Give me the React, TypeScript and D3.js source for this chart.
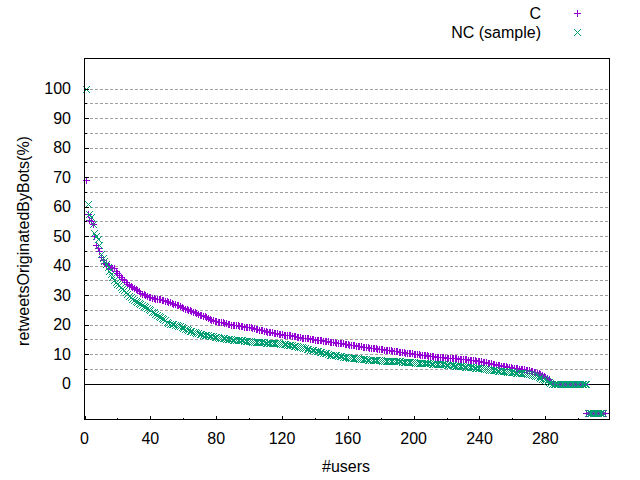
import * as d3 from "d3";
import { useEffect, useRef } from "react";

// retweetsOriginatedByBots(%) per user, sorted, C series (users 1..316)
const cValues: number[] = [
  69, 57.6, 55.5, 55, 54.2, 50, 47, 46, 45, 43,
  42, 41, 40.5, 40, 39.8, 39.5, 39.2, 39, 38.2, 37.5,
  36.8, 36.1, 35.5, 35, 34.3, 33.8, 33.3, 33, 32.8, 32.5,
  32.2, 31.8, 31.3, 30.8, 30.5, 30.2, 29.9, 29.6, 29.4, 29.2,
  29, 28.9, 28.8, 28.8, 28.7, 28.5, 28.4, 28.2, 28, 27.9,
  27.8, 27.7, 27.4, 27.1, 26.9, 26.7, 26.5, 26.2, 25.9, 25.6,
  25.4, 25.2, 25, 24.8, 24.6, 24.3, 24.1, 23.9, 23.6, 23.4,
  23.2, 23, 22.8, 22.5, 22.1, 21.8, 21.6, 21.4, 21.3, 21.1,
  21, 20.9, 20.8, 20.7, 20.6, 20.5, 20.3, 20.1, 20, 20,
  19.9, 19.8, 19.7, 19.6, 19.5, 19.4, 19.3, 19.2, 19.2, 19.1,
  19, 18.8, 18.7, 18.5, 18.4, 18.2, 18.1, 18, 17.9, 17.7,
  17.6, 17.5, 17.4, 17.3, 17.2, 17.1, 17, 16.9, 16.8, 16.7,
  16.6, 16.5, 16.4, 16.4, 16.3, 16.2, 16.1, 16, 15.9, 15.8,
  15.7, 15.6, 15.6, 15.5, 15.4, 15.3, 15.2, 15.1, 15, 14.9,
  14.9, 14.8, 14.7, 14.6, 14.5, 14.4, 14.4, 14.3, 14.2, 14.1,
  14.1, 14, 13.9, 13.9, 13.8, 13.7, 13.6, 13.5, 13.4, 13.3,
  13.2, 13.1, 13, 12.9, 12.8, 12.8, 12.7, 12.6, 12.5, 12.4,
  12.3, 12.3, 12.2, 12.1, 12, 12, 11.9, 11.8, 11.8, 11.7,
  11.6, 11.5, 11.5, 11.4, 11.3, 11.2, 11.1, 11, 10.9, 10.9,
  10.8, 10.7, 10.6, 10.6, 10.5, 10.4, 10.4, 10.3, 10.2, 10.1,
  10, 10, 9.9, 9.8, 9.7, 9.6, 9.6, 9.5, 9.4, 9.3,
  9.3, 9.2, 9.1, 9.1, 9, 9, 8.9, 8.9, 8.8, 8.8,
  8.7, 8.7, 8.6, 8.6, 8.5, 8.5, 8.4, 8.4, 8.3, 8.3,
  8.2, 8.2, 8.1, 8.1, 8, 7.9, 7.9, 7.8, 7.7, 7.6,
  7.5, 7.4, 7.3, 7.2, 7.1, 6.9, 6.8, 6.7, 6.6, 6.4,
  6.3, 6.2, 6.1, 6, 5.9, 5.8, 5.7, 5.6, 5.5, 5.4,
  5.3, 5.2, 5.1, 5, 4.9, 4.8, 4.8, 4.7, 4.6, 4.5,
  4.3, 4.1, 3.9, 3.8, 3.6, 3.4, 3.1, 2.8, 2.5, 2.1,
  1.8, 1.4, 0.8, 0, 0, 0, 0, 0, 0, 0,
  0, 0, 0, 0, 0, 0, 0, 0, 0, 0,
  0, 0, 0, 0, -10, -10, -10, -10, -10, -10,
  -10, -10, -10, -10, -10, -10,
];

// NC (sample) series (users 1..315)
const ncValues: number[] = [
  100, 61, 57.5, 56.5, 54, 51, 50, 49, 47, 44,
  42.5, 41.5, 40.5, 39.5, 38, 37, 36, 35, 34.3, 33.8,
  33.3, 32.8, 32.2, 31.6, 31, 30.4, 29.8, 29.3, 28.7, 28.2,
  27.9, 27.7, 27.4, 27.1, 26.7, 26.3, 25.9, 25.6, 25.2, 24.8,
  24.4, 24.1, 23.7, 23.3, 23, 22.6, 22.2, 21.8, 21.4, 21,
  20.6, 20.3, 20.2, 20.1, 20, 19.8, 19.6, 19.4, 19.1, 18.8,
  18.6, 18.4, 18.1, 17.8, 17.7, 17.5, 17.3, 17.1, 17, 16.9,
  16.8, 16.6, 16.5, 16.4, 16.3, 16.2, 16.1, 16, 15.9, 15.8,
  15.7, 15.6, 15.5, 15.4, 15.3, 15.2, 15.1, 15, 15, 14.9,
  14.9, 14.8, 14.8, 14.7, 14.7, 14.6, 14.5, 14.4, 14.4, 14.3,
  14.3, 14.2, 14.2, 14.2, 14.1, 14.1, 14, 14, 14, 13.9,
  13.9, 13.9, 13.8, 13.8, 13.8, 13.7, 13.6, 13.6, 13.5, 13.4,
  13.4, 13.3, 13.2, 13.1, 13, 12.9, 12.8, 12.7, 12.6, 12.5,
  12.4, 12.3, 12.1, 12, 11.8, 11.6, 11.5, 11.4, 11.3, 11.1,
  11, 10.9, 10.7, 10.6, 10.5, 10.3, 10.2, 10, 9.8, 9.7,
  9.6, 9.5, 9.5, 9.4, 9.3, 9.2, 9.1, 9, 8.9, 8.9,
  8.8, 8.7, 8.6, 8.6, 8.5, 8.5, 8.4, 8.4, 8.3, 8.2,
  8.2, 8.1, 8.1, 8.1, 8, 8, 8, 7.9, 7.9, 7.9,
  7.8, 7.8, 7.8, 7.7, 7.7, 7.7, 7.6, 7.6, 7.6, 7.5,
  7.5, 7.5, 7.4, 7.4, 7.4, 7.3, 7.3, 7.2, 7.2, 7.2,
  7.1, 7.1, 7, 7, 7, 6.9, 6.9, 6.8, 6.8, 6.8,
  6.7, 6.7, 6.7, 6.6, 6.6, 6.6, 6.5, 6.5, 6.5, 6.4,
  6.4, 6.3, 6.3, 6.2, 6.1, 6.1, 6, 5.9, 5.8, 5.8,
  5.7, 5.6, 5.6, 5.6, 5.5, 5.5, 5.4, 5.4, 5.3, 5.3,
  5.2, 5.1, 5, 4.9, 4.8, 4.7, 4.7, 4.6, 4.5, 4.5,
  4.4, 4.3, 4.3, 4.2, 4.1, 4.1, 4, 3.9, 3.9, 3.8,
  3.8, 3.7, 3.7, 3.6, 3.6, 3.5, 3.5, 3.4, 3.3, 3.2,
  3.1, 3, 2.8, 2.6, 2.4, 2.2, 2, 1.7, 1.4, 1.1,
  0.8, 0.5, 0.3, 0, 0, 0, 0, 0, 0, 0,
  0, 0, 0, 0, 0, 0, 0, 0, 0, 0,
  0, 0, 0, 0, 0, -10, -10, -10, -10, -10,
  -10, -10, -10, -10, -10,
];

const xTicks = [0, 40, 80, 120, 160, 200, 240, 280];
const xMinorTicks = [20, 60, 100, 140, 180, 220, 260, 300];
const yTicks = [0, 10, 20, 30, 40, 50, 60, 70, 80, 90, 100];
const yMinorTicks = [5, 15, 25, 35, 45, 55, 65, 75, 85, 95];

const seriesNames = ["C", "NC (sample)"];
const seriesColors = ["#9400d3", "#009e73"];

const FONT = "'Liberation Sans', Arial, sans-serif";

const plusPath = "M-3.5,0H3.5M0,-3.5V3.5";
const crossPath = "M-3.5,-3.5L3.5,3.5M-3.5,3.5L3.5,-3.5";

const App = () => {
  const svgRef = useRef<SVGSVGElement | null>(null);

  useEffect(() => {
    document.body.style.margin = "0";
    if (!svgRef.current) return;

    const width = 640;
    const height = 480;
    const left = 84.5;
    const right = 609.5;
    const top = 58.5;
    const bottom = 419.5;

    const x = d3.scaleLinear().domain([0, 319]).range([left, right]);
    const y = d3.scaleLinear().domain([-12.2, 110.2]).range([bottom, top]);

    const svg = d3.select(svgRef.current);
    svg.selectAll("*").remove();
    svg.attr("viewBox", `0 0 ${width} ${height}`);

    svg.append("rect").attr("width", width).attr("height", height).attr("fill", "#fff");

    // dashed grid at major and minor y ticks (zero line drawn solid below)
    svg
      .append("g")
      .selectAll("line")
      .data([...yTicks, ...yMinorTicks].filter((d) => d !== 0))
      .join("line")
      .attr("x1", left)
      .attr("x2", right)
      .attr("y1", (d) => Math.round(y(d)) + 0.5)
      .attr("y2", (d) => Math.round(y(d)) + 0.5)
      .attr("stroke", "#a0a0a0")
      .attr("stroke-width", 1)
      .attr("stroke-dasharray", "3,2")
      .attr("shape-rendering", "crispEdges");

    // zero axis
    svg
      .append("line")
      .attr("x1", left)
      .attr("x2", right)
      .attr("y1", Math.round(y(0)) + 0.5)
      .attr("y2", Math.round(y(0)) + 0.5)
      .attr("stroke", "#000")
      .attr("shape-rendering", "crispEdges");

    // points
    const drawSeries = (values: number[], path: string, color: string) => {
      svg
        .append("g")
        .selectAll("path")
        .data(values)
        .join("path")
        .attr("transform", (d, i) => `translate(${Math.round(x(i + 1)) + 0.5},${Math.round(y(d)) + 0.5})`)
        .attr("d", path)
        .attr("fill", "none")
        .attr("stroke", color)
        .attr("stroke-width", 1)
        .attr("shape-rendering", "crispEdges");
    };
    drawSeries(cValues, plusPath, seriesColors[0]);
    drawSeries(ncValues, crossPath, seriesColors[1]);

    // frame
    svg
      .append("rect")
      .attr("x", left)
      .attr("y", top)
      .attr("width", right - left)
      .attr("height", bottom - top)
      .attr("fill", "none")
      .attr("stroke", "#000")
      .attr("shape-rendering", "crispEdges");

    // ticks
    const tickG = svg.append("g").attr("stroke", "#000").attr("shape-rendering", "crispEdges");
    xTicks.forEach((t) => {
      const px = Math.round(x(t)) + 0.5;
      tickG.append("line").attr("x1", px).attr("x2", px).attr("y1", bottom).attr("y2", bottom - 4);
    });
    xMinorTicks.forEach((t) => {
      const px = Math.round(x(t)) + 0.5;
      tickG.append("line").attr("x1", px).attr("x2", px).attr("y1", bottom).attr("y2", bottom - 2);
    });
    yTicks.forEach((t) => {
      const py = Math.round(y(t)) + 0.5;
      tickG.append("line").attr("x1", left).attr("x2", left + 4).attr("y1", py).attr("y2", py);
    });
    yMinorTicks.forEach((t) => {
      const py = Math.round(y(t)) + 0.5;
      tickG.append("line").attr("x1", left).attr("x2", left + 2).attr("y1", py).attr("y2", py);
    });

    const textG = svg
      .append("g")
      .attr("font-family", FONT)
      .attr("font-size", 16)
      .attr("fill", "#000");

    textG
      .selectAll("text.xt")
      .data(xTicks)
      .join("text")
      .attr("class", "xt")
      .attr("x", (d) => x(d))
      .attr("y", 438)
      .attr("text-anchor", "middle")
      .attr("dominant-baseline", "central")
      .text((d) => d);

    textG
      .selectAll("text.yt")
      .data(yTicks)
      .join("text")
      .attr("class", "yt")
      .attr("x", 71)
      .attr("y", (d) => y(d))
      .attr("text-anchor", "end")
      .attr("dominant-baseline", "central")
      .text((d) => d);

    textG
      .append("text")
      .attr("x", 346)
      .attr("y", 466)
      .attr("text-anchor", "middle")
      .attr("dominant-baseline", "central")
      .text("#users");

    textG
      .append("text")
      .attr("transform", "translate(23,241) rotate(-90)")
      .attr("text-anchor", "middle")
      .attr("dominant-baseline", "central")
      .text("retweetsOriginatedByBots(%)");

    // legend
    const legendY = [13, 32];
    seriesNames.forEach((name, i) => {
      textG
        .append("text")
        .attr("x", 541)
        .attr("y", legendY[i])
        .attr("text-anchor", "end")
        .attr("dominant-baseline", "central")
        .text(name);
      svg
        .append("path")
        .attr("transform", `translate(577.5,${legendY[i] + 0.5})`)
        .attr("d", i === 0 ? plusPath : crossPath)
        .attr("fill", "none")
        .attr("stroke", seriesColors[i])
        .attr("shape-rendering", "crispEdges");
    });
  }, []);

  return (
    <svg
      ref={svgRef}
      width={640}
      height={480}
      style={{ display: "block", position: "absolute", left: 0, top: 0 }}
    ></svg>
  );
};

export default App;
